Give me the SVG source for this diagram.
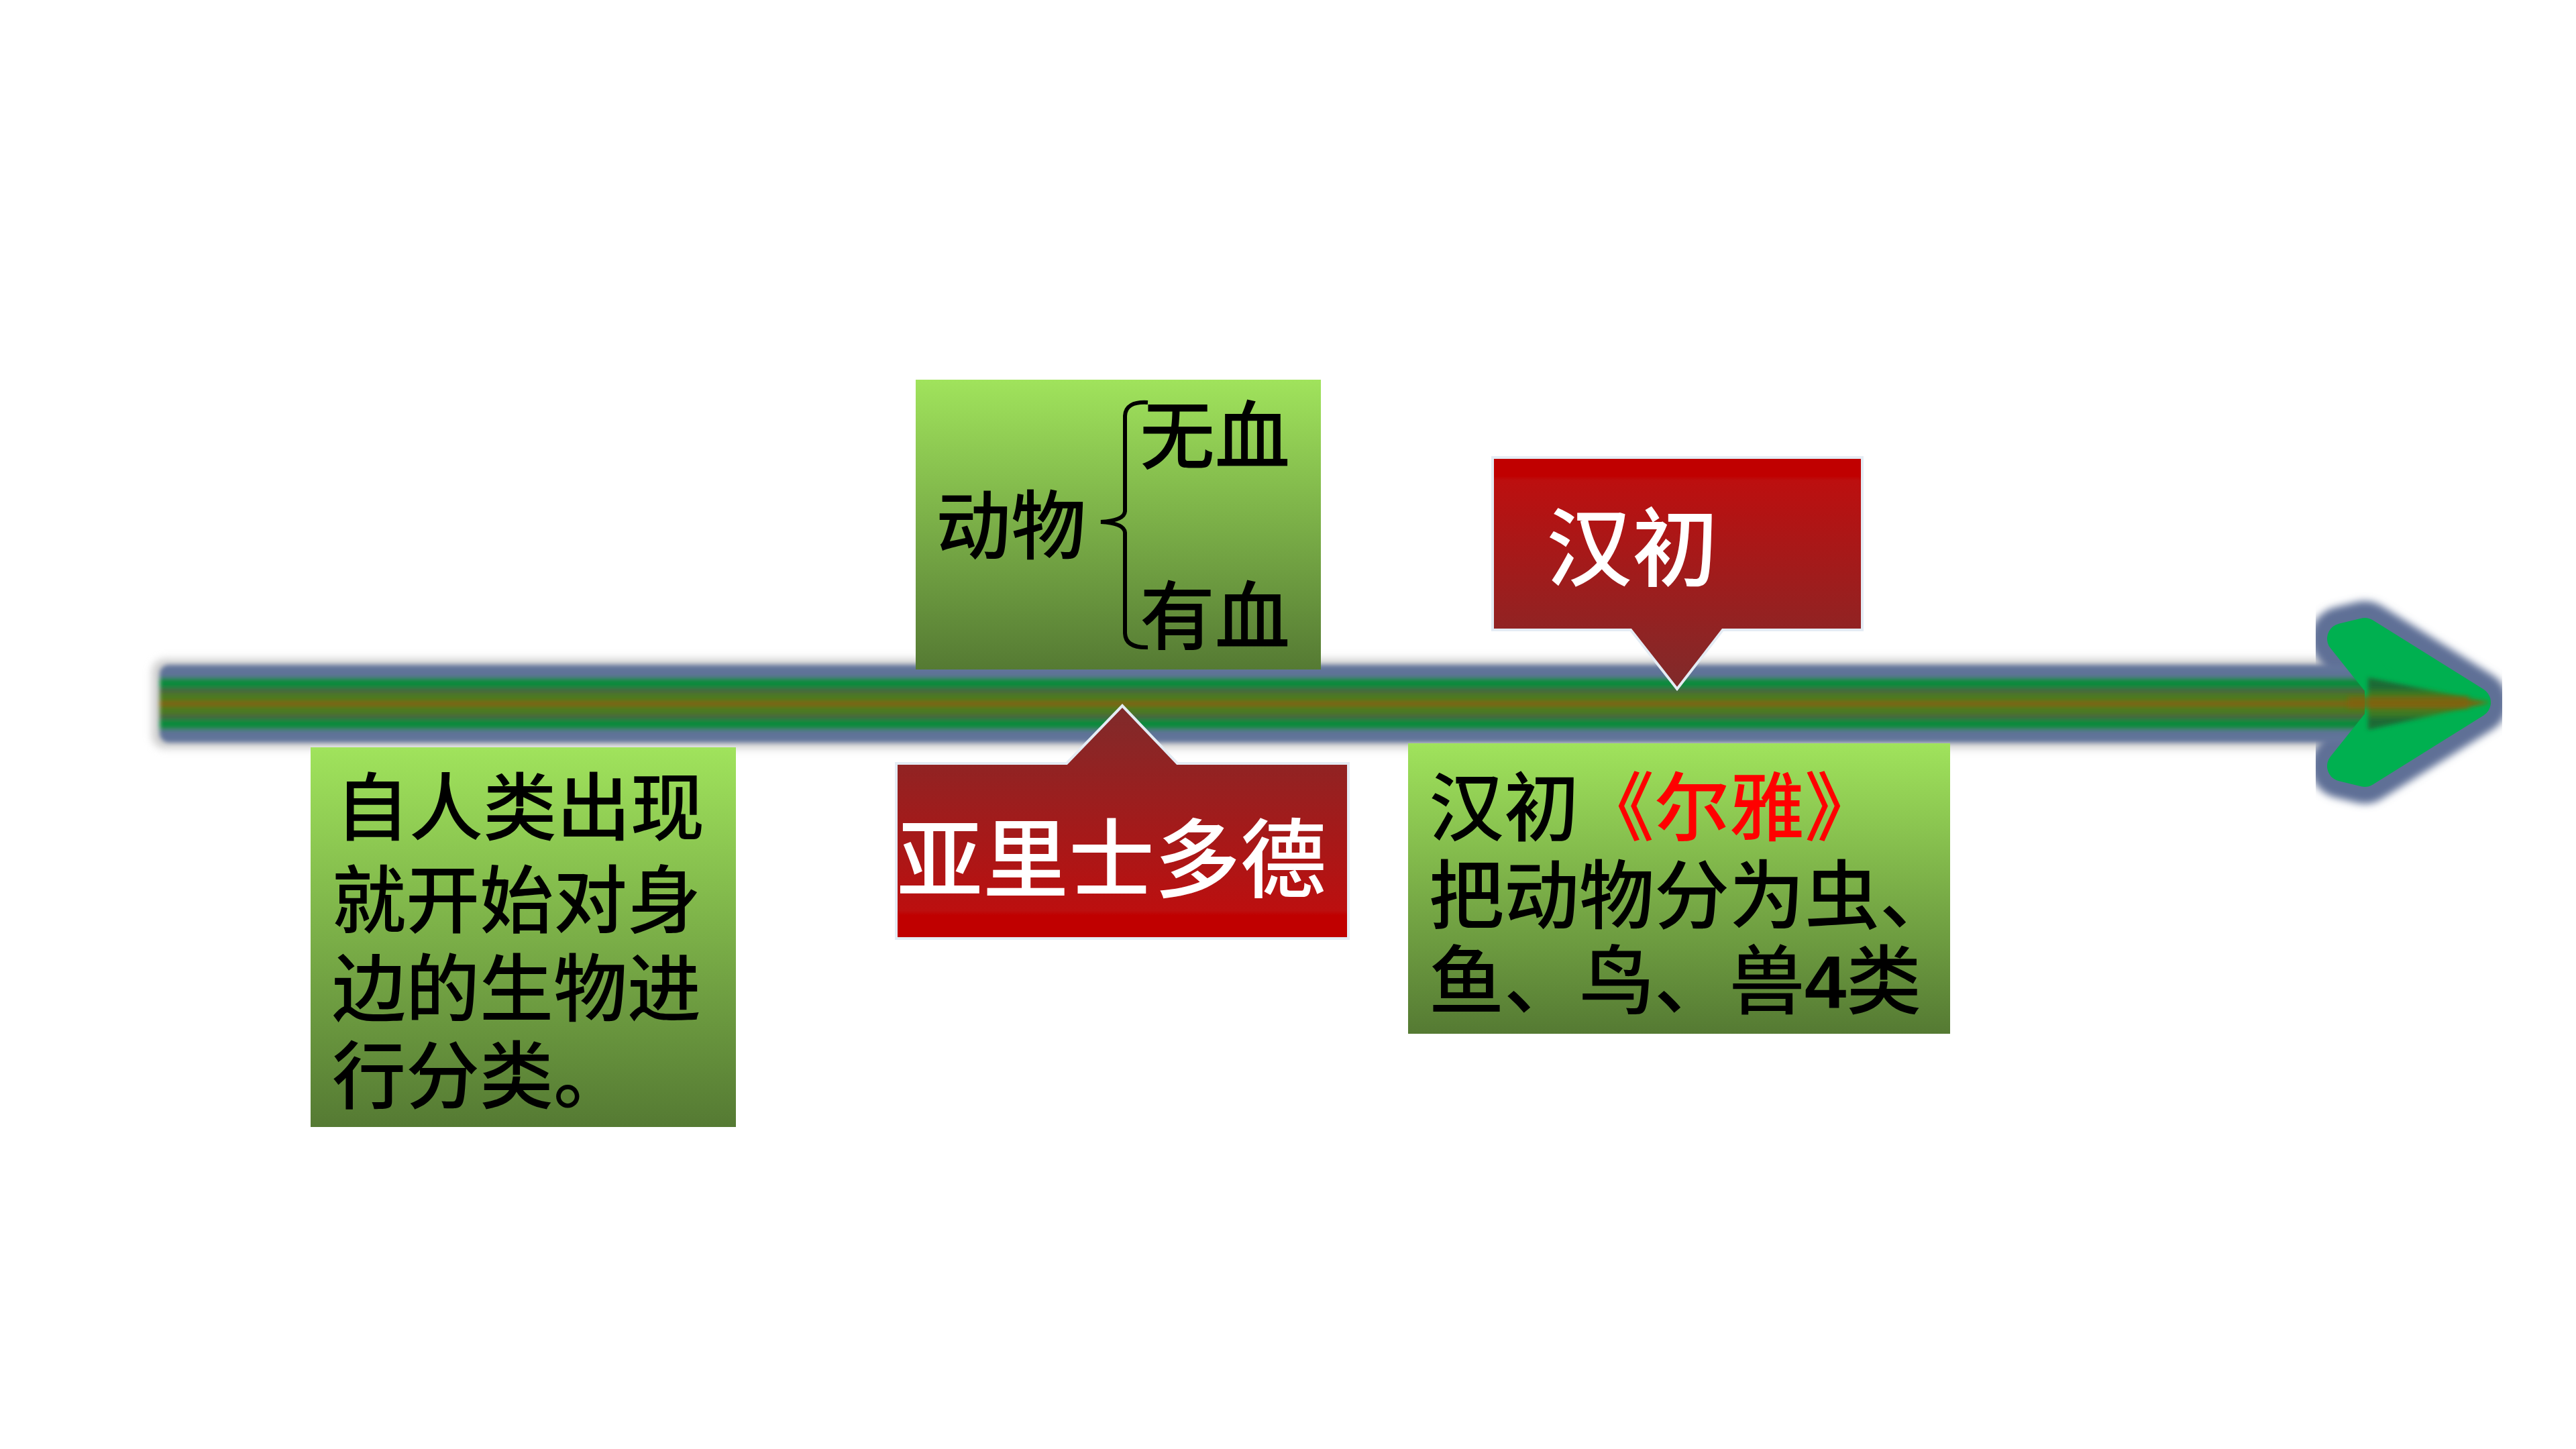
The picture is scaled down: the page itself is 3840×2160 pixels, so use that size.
<svg xmlns="http://www.w3.org/2000/svg" width="3840" height="2160" viewBox="0 0 3840 2160">
  <defs>
    <style>
      .cjk { font-family: "Noto Sans CJK SC", "Noto Sans CJK JP", sans-serif; font-weight: 500; }
      .dark { fill: #000000; }
      .white { fill: #FFFFFF; }
      .redtxt { fill: #FF0000; }
      .green-box { fill: url(#gGreen); }
      .callout { stroke: #E4ECF4; stroke-width: 4; stroke-linejoin: miter; }
    </style>
    <linearGradient id="gGreen" x1="0" y1="0" x2="0" y2="1">
      <stop offset="0" stop-color="#A0E35C"/>
      <stop offset="1" stop-color="#557A33"/>
    </linearGradient>
    <linearGradient id="gRedUp" x1="0" y1="0" x2="0" y2="1">
      <stop offset="0" stop-color="#7F2B2B"/>
      <stop offset="0.88" stop-color="#BC0F0F"/>
      <stop offset="0.9" stop-color="#C00000"/>
      <stop offset="1" stop-color="#C00000"/>
    </linearGradient>
    <linearGradient id="gRedDown" x1="0" y1="0" x2="0" y2="1">
      <stop offset="0" stop-color="#C00000"/>
      <stop offset="0.08" stop-color="#C00000"/>
      <stop offset="0.1" stop-color="#BC0F0F"/>
      <stop offset="1" stop-color="#7F2B2B"/>
    </linearGradient>
    <linearGradient id="gShaft" gradientUnits="userSpaceOnUse" x1="0" y1="990" x2="0" y2="1108">
      <stop offset="0" stop-color="#64769C"/>
      <stop offset="0.16" stop-color="#5E7296"/>
      <stop offset="0.19" stop-color="#0A8A3E"/>
      <stop offset="0.29" stop-color="#0C8A3C"/>
      <stop offset="0.33" stop-color="#4E5947"/>
      <stop offset="0.38" stop-color="#4B7A22"/>
      <stop offset="0.46" stop-color="#4D7A1E"/>
      <stop offset="0.48" stop-color="#83600A"/>
      <stop offset="0.52" stop-color="#83600A"/>
      <stop offset="0.54" stop-color="#4D7A1E"/>
      <stop offset="0.62" stop-color="#4B7A22"/>
      <stop offset="0.67" stop-color="#4E5947"/>
      <stop offset="0.71" stop-color="#0C8A3C"/>
      <stop offset="0.81" stop-color="#0A8A3E"/>
      <stop offset="0.84" stop-color="#5E7296"/>
      <stop offset="1" stop-color="#64769C"/>
    </linearGradient>
    <linearGradient id="gTip" gradientUnits="userSpaceOnUse" x1="0" y1="1010" x2="0" y2="1088">
      <stop offset="0" stop-color="#1E6B34"/>
      <stop offset="0.2" stop-color="#1E6B34"/>
      <stop offset="0.3" stop-color="#3F7A22"/>
      <stop offset="0.45" stop-color="#4D7A1E"/>
      <stop offset="0.48" stop-color="#83600A"/>
      <stop offset="0.52" stop-color="#83600A"/>
      <stop offset="0.55" stop-color="#4D7A1E"/>
      <stop offset="0.7" stop-color="#3F7A22"/>
      <stop offset="0.8" stop-color="#1E6B34"/>
      <stop offset="1" stop-color="#1E6B34"/>
    </linearGradient>
    <filter id="soft" x="-5%" y="-50%" width="110%" height="200%">
      <feGaussianBlur stdDeviation="3"/>
    </filter>
    <filter id="halo" x="-20%" y="-30%" width="140%" height="160%">
      <feGaussianBlur stdDeviation="6"/>
    </filter>
  </defs>

  <rect x="0" y="0" width="3840" height="2160" fill="#FFFFFF"/>

  <!-- timeline arrow (connector) -->
  <g id="connectors">
    <rect x="226" y="982" width="3320" height="134" rx="20" fill="#D0D0D0" filter="url(#halo)"/>
    <polygon points="3548,1022 3492,952 3525,944 3690,1047 3525,1150 3492,1142 3548,1072" fill="#5E7096" stroke="#5E7096" stroke-width="96" stroke-linejoin="round" filter="url(#halo)"/>
    <rect x="238" y="991" width="3320" height="116" rx="14" fill="url(#gShaft)" filter="url(#soft)"/>
    <polygon points="3548,1022 3492,952 3525,944 3690,1047 3525,1150 3492,1142 3548,1072" fill="#00B050" stroke="#00B050" stroke-width="46" stroke-linejoin="round"/>
    <polygon points="3530,1010 3712,1047 3530,1088" fill="url(#gTip)" filter="url(#soft)"/>
    <rect x="3500" y="1038" width="180" height="18" fill="#83600A" filter="url(#soft)" opacity="0.7"/>
  </g>

  <!-- 动物 classification box -->
  <g id="node-animals">
    <rect class="green-box" x="1365" y="566" width="604" height="432"/>
    <text class="cjk dark" x="1395" y="825" font-size="112">动物</text>
    <path d="M1711,600 Q1678,598 1677,620 L1677,762 Q1676,776 1641,778 Q1676,780 1677,794 L1677,944 Q1678,966 1711,965" fill="none" stroke="#000000" stroke-width="6"/>
    <text class="cjk dark" x="1699" y="691" font-size="112">无血</text>
    <text class="cjk dark" x="1699" y="960" font-size="112">有血</text>
  </g>

  <!-- 汉初 red callout -->
  <g id="node-hanchu-callout">
    <path class="callout" d="M2225,682 L2776,682 L2776,939 L2568,939 L2500,1027 L2431,939 L2225,939 Z" fill="url(#gRedDown)"/>
    <text class="cjk white" x="2305" y="864" font-size="128">汉初</text>
  </g>

  <!-- 亚里士多德 red callout -->
  <g id="node-aristotle">
    <path class="callout" d="M1336,1138 L1590,1138 L1673,1052 L1755,1138 L2010,1138 L2010,1399 L1336,1399 Z" fill="url(#gRedUp)"/>
    <text class="cjk white" x="1337" y="1328" font-size="128">亚里士多德</text>
  </g>

  <!-- left green box -->
  <g id="node-origin">
    <rect class="green-box" x="463" y="1114" width="634" height="566"/>
    <text class="cjk dark" x="500" y="1244" font-size="110">自人类出现</text>
    <text class="cjk dark" x="495" y="1382" font-size="110">就开始对身</text>
    <text class="cjk dark" x="495" y="1514" font-size="110">边的生物进</text>
    <text class="cjk dark" x="495" y="1644" font-size="110">行分类。</text>
  </g>

  <!-- 尔雅 green box -->
  <g id="node-erya">
    <rect class="green-box" x="2099" y="1108" width="808" height="433"/>
    <text class="cjk dark" x="2130" y="1245" font-size="112">汉初<tspan class="redtxt">《尔雅》</tspan></text>
    <text class="cjk dark" x="2130" y="1376" font-size="112">把动物分为虫、</text>
    <text class="cjk dark" x="2130" y="1503" font-size="112">鱼、鸟、兽<tspan font-family="Liberation Sans, Arial, sans-serif" font-weight="bold">4</tspan>类</text>
  </g>
</svg>
